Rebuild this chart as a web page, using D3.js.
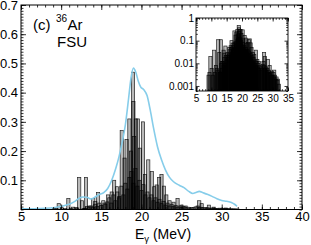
<!DOCTYPE html>
<head>
    <meta charset="utf-8">
    <title>36Ar strength</title>
    <script src="https://d3js.org/d3.v7.min.js"></script>
    <style>
        body { margin: 0; background: #fff; }
        svg { display: block; font-family: "Liberation Sans", Arial, sans-serif; }
    </style>
</head>
<body>
    <div id="container"></div>
    <script>
        //------------------------------DATA------------------------------//
        // prominent transitions (E in MeV, strength)
        var strongE = [9.7, 10.9, 11.8, 12.25, 12.6, 13.1, 13.5, 14.0, 14.25, 14.6, 15.4, 15.85, 16.3, 16.6, 16.95, 17.2,
            17.55, 17.9, 18.15, 18.5, 18.7, 18.95, 19.0, 19.1, 19.3, 19.55, 19.8, 20.2, 20.45, 20.85, 21.3, 21.6, 21.9,
            22.2, 22.5, 22.8, 23.1, 23.5, 24.0, 24.5, 25.0, 25.5, 27.2, 27.5, 28.4, 29.0, 30.5];
        var strongB = [0.020, 0.038, 0.006, 0.110, 0.030, 0.110, 0.012, 0.038, 0.028, 0.058, 0.022, 0.050, 0.060, 0.100, 0.078, 0.040,
            0.270, 0.176, 0.240, 0.310, 0.200, 0.470, 0.370, 0.250, 0.310, 0.310, 0.210, 0.300, 0.120, 0.170, 0.130, 0.078, 0.084,
            0.110, 0.120, 0.080, 0.050, 0.030, 0.025, 0.038, 0.015, 0.012, 0.030, 0.020, 0.015, 0.008, 0.005];

        // weak transitions (the dark mass near the baseline)
        var weakE = [9.1, 9.4, 10.1, 10.5, 11.2, 11.5, 12.0, 12.8,
            13.00, 13.25, 13.50, 13.75, 14.00, 14.25, 14.50, 14.75, 15.00, 15.25, 15.50, 15.75, 16.00, 16.25, 16.50, 16.75,
            17.00, 17.25, 17.50, 17.75, 18.00, 18.25, 18.50, 18.75, 19.00, 19.25, 19.50, 19.75, 20.00, 20.25, 20.50, 20.75,
            21.00, 21.25, 21.50, 21.75, 22.00, 22.25, 22.50, 22.75, 23.00, 23.25, 23.50, 23.75, 24.00, 24.25, 24.50, 24.75,
            25.00, 25.25, 25.50, 25.75, 26.00, 26.25, 26.50, 26.75, 27.00, 27.25, 27.50, 27.75, 28.00, 28.25, 28.50, 28.75,
            29.00, 29.25, 29.50, 29.75, 30.00, 30.25, 30.50, 30.75, 31.00, 31.25, 31.50, 31.75, 32.00];
        var weakB = [0.003, 0.004, 0.006, 0.003, 0.004, 0.008, 0.005, 0.004,
            0.004, 0.010, 0.006, 0.012, 0.008, 0.018, 0.010, 0.022, 0.014, 0.030, 0.018, 0.026, 0.040, 0.022, 0.050, 0.030,
            0.060, 0.045, 0.080, 0.050, 0.090, 0.070, 0.110, 0.130, 0.090, 0.140, 0.080, 0.100, 0.065, 0.085, 0.050, 0.060,
            0.040, 0.050, 0.030, 0.040, 0.025, 0.035, 0.020, 0.028, 0.015, 0.022, 0.012, 0.018, 0.010, 0.014, 0.008, 0.012,
            0.007, 0.010, 0.006, 0.008, 0.005, 0.007, 0.006, 0.009, 0.012, 0.008, 0.006, 0.007, 0.005, 0.006, 0.004, 0.005,
            0.0035, 0.004, 0.003, 0.0045, 0.003, 0.004, 0.0025, 0.003, 0.002, 0.0025, 0.0018, 0.002, 0.0012];

        // smoothed strength function (blue line)
        var curveE = [5.0, 6.0, 7.0, 8.0, 9.0, 10.0, 11.0, 11.6, 12.2, 12.7, 13.2, 13.7, 14.2, 14.8, 15.3, 15.8, 16.3, 16.8,
            17.2, 17.6, 18.0, 18.4, 18.7, 19.0, 19.3, 19.6, 19.9, 20.3, 20.7, 21.1, 21.5, 22.0, 22.5, 23.0, 23.5, 24.0,
            24.7, 25.3, 25.9, 26.4, 26.8, 27.2, 27.6, 28.2, 28.8, 29.4, 30.0, 30.6, 31.2, 31.6, 31.9];
        var curveS = [0.002, 0.002, 0.003, 0.004, 0.006, 0.011, 0.018, 0.026, 0.038, 0.043, 0.042, 0.036, 0.042, 0.052, 0.058,
            0.072, 0.100, 0.140, 0.180, 0.230, 0.290, 0.380, 0.450, 0.484, 0.470, 0.440, 0.420, 0.410, 0.390, 0.340, 0.280,
            0.215, 0.170, 0.135, 0.110, 0.095, 0.083, 0.075, 0.062, 0.055, 0.058, 0.062, 0.058, 0.052, 0.045, 0.037, 0.031,
            0.028, 0.024, 0.018, 0.011];

        var xTicks = [5, 10, 15, 20, 25, 30, 35, 40];
        var yTicks = [0.1, 0.2, 0.3, 0.4, 0.5, 0.6, 0.7];
        var insetXTicks = [5, 10, 15, 20, 25, 30, 35];
        var insetYTicks = [0.001, 0.01, 0.1, 1];
        var insetYLabels = ["0.001", "0.01", "0.1", "1"];

        //---------------------------PREPARATION--------------------------//
        var width = 311, height = 245;
        var bars = strongE.map((e, i) => ({ e: e, b: strongB[i] }))
            .concat(weakE.map((e, i) => ({ e: e, b: weakB[i] })))
            .sort((a, b) => b.b - a.b);
        var curve = curveE.map((e, i) => ({ e: e, s: curveS[i] }));

        var svg = d3.select("#container").append("svg")
            .attr("width", width).attr("height", height);

        var x = d3.scaleLinear().domain([5, 40]).range([21, 302]);
        var y = d3.scaleLinear().domain([0, 0.7]).range([209.5, 5]);

        function styleAxis(g, size) {
            g.select(".domain").remove();
            g.selectAll("line").attr("stroke", "#000").attr("stroke-width", 0.8);
            g.selectAll("text").attr("fill", "#000").style("font-size", size + "px")
                .style("font-family", "'Liberation Sans', Arial, sans-serif");
        }

        function drawBars(g, data, xs, ys, base) {
            g.selectAll("rect")
                .data(data)
                .join("rect")
                .attr("x", d => xs(d.e) - barW / 2)
                .attr("width", barW)
                .attr("y", d => ys(d.b))
                .attr("height", d => base - ys(d.b))
                .attr("fill", "#000")
                .attr("fill-opacity", 0.27)
                .attr("stroke", "#000")
                .attr("stroke-opacity", 0.85)
                .attr("stroke-width", 0.7);
        }

        //-----------------------------BARS-------------------------------//
        var barW = 3.2;
        drawBars(svg.append("g"), bars, x, y, y(0));

        //-----------------------------CURVE------------------------------//
        svg.append("path")
            .datum(curve)
            .attr("fill", "none")
            .attr("stroke", "#86cdea")
            .attr("stroke-width", 1.6)
            .attr("d", d3.line().x(d => x(d.e)).y(d => y(d.s)).curve(d3.curveMonotoneX));

        //-----------------------------AXES-------------------------------//
        var minorX = d3.range(5, 41, 1);
        var minorY = d3.range(0, 71).map(d => d / 100);

        svg.append("g").attr("transform", "translate(0,209.5)")
            .call(d3.axisBottom(x).tickValues(minorX).tickSize(-2.5).tickFormat(""))
            .call(g => styleAxis(g, 13));
        svg.append("g").attr("transform", "translate(0,209.5)")
            .call(d3.axisBottom(x).tickValues(xTicks).tickSize(-5).tickPadding(2).tickFormat(d3.format("d")))
            .call(g => styleAxis(g, 13));
        svg.append("g").attr("transform", "translate(0,5)")
            .call(d3.axisTop(x).tickValues(minorX).tickSize(-2.5).tickFormat(""))
            .call(g => styleAxis(g, 13));
        svg.append("g").attr("transform", "translate(0,5)")
            .call(d3.axisTop(x).tickValues(xTicks).tickSize(-5).tickFormat(""))
            .call(g => styleAxis(g, 13));

        svg.append("g").attr("transform", "translate(21,0)")
            .call(d3.axisLeft(y).tickValues(minorY).tickSize(-2.5).tickFormat(""))
            .call(g => styleAxis(g, 13));
        svg.append("g").attr("transform", "translate(21,0)")
            .call(d3.axisLeft(y).tickValues(yTicks).tickSize(-5).tickPadding(3).tickFormat(d3.format(".1f")))
            .call(g => styleAxis(g, 13));
        svg.append("g").attr("transform", "translate(302,0)")
            .call(d3.axisRight(y).tickValues(minorY).tickSize(-2.5).tickFormat(""))
            .call(g => styleAxis(g, 13));
        svg.append("g").attr("transform", "translate(302,0)")
            .call(d3.axisRight(y).tickValues(yTicks).tickSize(-5).tickFormat(""))
            .call(g => styleAxis(g, 13));

        svg.append("rect")
            .attr("x", 21).attr("y", 5)
            .attr("width", 281).attr("height", 204.5)
            .attr("fill", "none").attr("stroke", "#000").attr("stroke-width", 1);

        //----------------------------LABELS------------------------------//
        var xl = svg.append("text")
            .attr("x", 163).attr("y", 238.5)
            .attr("text-anchor", "middle")
            .style("font-size", "14px");
        xl.append("tspan").text("E");
        xl.append("tspan").attr("dy", 3.5).style("font-size", "9.5px").text("γ");
        xl.append("tspan").attr("dy", -3.5).text(" (MeV)");

        svg.append("text").attr("x", 33).attr("y", 30).style("font-size", "15px").text("(c)");
        svg.append("text").attr("x", 56).attr("y", 22).style("font-size", "10px").text("36");
        svg.append("text").attr("x", 67.5).attr("y", 30).style("font-size", "15px").text("Ar");
        svg.append("text").attr("x", 57).attr("y", 46.5).style("font-size", "15px").text("FSU");

        //-----------------------------INSET------------------------------//
        var ix = d3.scaleLinear().domain([5, 35]).range([196, 288]);
        var iy = d3.scaleLog().domain([0.0006, 1]).range([91, 18]);

        svg.append("rect")
            .attr("x", 196).attr("y", 18).attr("width", 92).attr("height", 73)
            .attr("fill", "#fff");

        svg.append("clipPath").attr("id", "insetClip")
            .append("rect").attr("x", 196).attr("y", 18).attr("width", 92).attr("height", 73);

        drawBars(svg.append("g").attr("clip-path", "url(#insetClip)"),
            bars.filter(d => d.b > 0.0006), ix, iy, 91);

        var iMinorX = d3.range(5, 36, 1);
        var iMinorY = [].concat(...[0.0001, 0.001, 0.01, 0.1].map(p => d3.range(2, 10).map(k => k * p)))
            .filter(v => v >= 0.0006 && v <= 1);

        svg.append("g").attr("transform", "translate(0,91)")
            .call(d3.axisBottom(ix).tickValues(iMinorX).tickSize(-1.8).tickFormat(""))
            .call(g => styleAxis(g, 10));
        svg.append("g").attr("transform", "translate(0,91)")
            .call(d3.axisBottom(ix).tickValues(insetXTicks).tickSize(-3.5).tickPadding(4).tickFormat(d3.format("d")))
            .call(g => styleAxis(g, 10));
        svg.append("g").attr("transform", "translate(0,18)")
            .call(d3.axisTop(ix).tickValues(iMinorX).tickSize(-1.8).tickFormat(""))
            .call(g => styleAxis(g, 10));
        svg.append("g").attr("transform", "translate(0,18)")
            .call(d3.axisTop(ix).tickValues(insetXTicks).tickSize(-3.5).tickFormat(""))
            .call(g => styleAxis(g, 10));

        svg.append("g").attr("transform", "translate(196,0)")
            .call(d3.axisLeft(iy).tickValues(iMinorY).tickSize(-1.8).tickFormat(""))
            .call(g => styleAxis(g, 10));
        svg.append("g").attr("transform", "translate(196,0)")
            .call(d3.axisLeft(iy).tickValues(insetYTicks).tickSize(-3.5).tickPadding(2)
                .tickFormat((d, i) => insetYLabels[i]))
            .call(g => styleAxis(g, 10));
        svg.append("g").attr("transform", "translate(288,0)")
            .call(d3.axisRight(iy).tickValues(iMinorY).tickSize(-1.8).tickFormat(""))
            .call(g => styleAxis(g, 10));
        svg.append("g").attr("transform", "translate(288,0)")
            .call(d3.axisRight(iy).tickValues(insetYTicks).tickSize(-3.5).tickFormat(""))
            .call(g => styleAxis(g, 10));

        svg.append("rect")
            .attr("x", 196).attr("y", 18).attr("width", 92).attr("height", 73)
            .attr("fill", "none").attr("stroke", "#000").attr("stroke-width", 0.9);
    </script>
</body>
